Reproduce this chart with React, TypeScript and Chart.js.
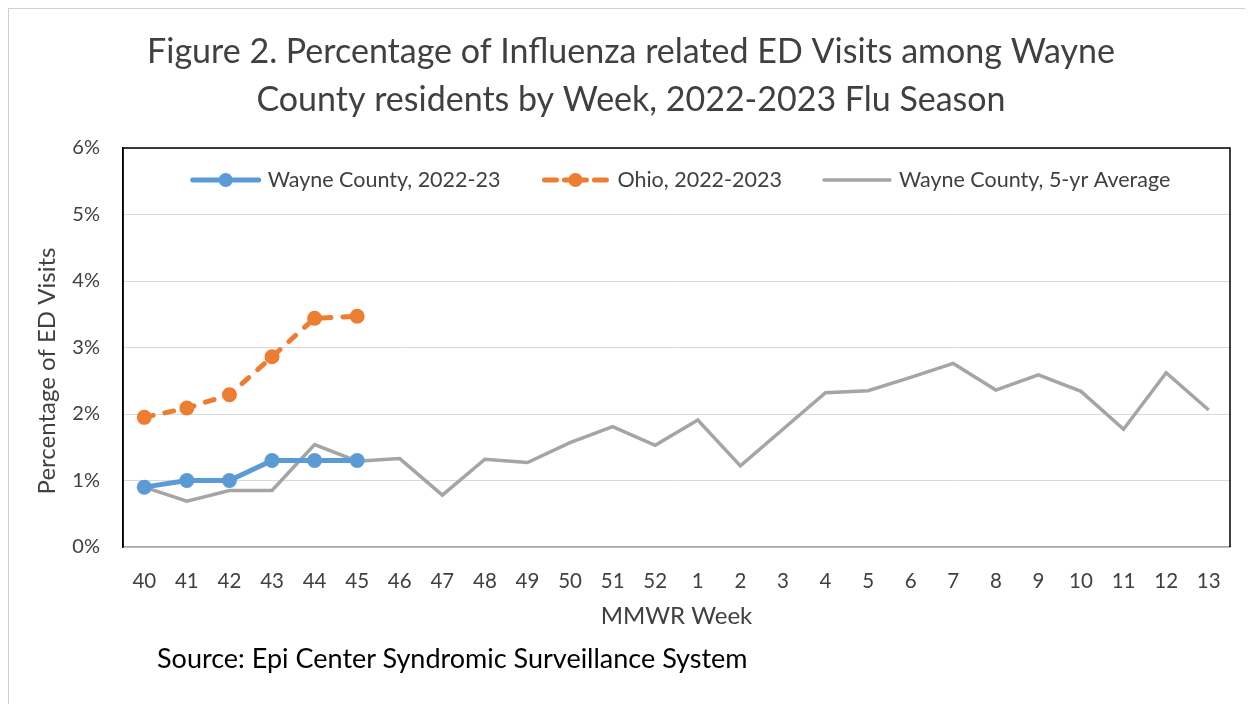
import React, { useEffect, useRef } from 'react';
import { Chart, registerables } from 'chart.js';

Chart.register(...registerables);

const weeks = ['40', '41', '42', '43', '44', '45', '46', '47', '48', '49', '50', '51', '52', '1', '2', '3', '4', '5', '6', '7', '8', '9', '10', '11', '12', '13'];
const wayne2223: (number | null)[] = [0.9, 1.0, 1.0, 1.3, 1.3, 1.3, null, null, null, null, null, null, null, null, null, null, null, null, null, null, null, null, null, null, null, null];
const ohio2223: (number | null)[] = [1.95, 2.09, 2.29, 2.86, 3.44, 3.47, null, null, null, null, null, null, null, null, null, null, null, null, null, null, null, null, null, null, null, null];
const wayne5yr: number[] = [0.9, 0.69, 0.85, 0.85, 1.54, 1.29, 1.33, 0.78, 1.32, 1.27, 1.57, 1.81, 1.53, 1.91, 1.22, 1.77, 2.32, 2.35, 2.55, 2.76, 2.36, 2.59, 2.34, 1.77, 2.62, 2.06];
const yTickLabels = ['0%', '1%', '2%', '3%', '4%', '5%', '6%'];
const seriesNames = ['Wayne County, 2022-23', 'Ohio, 2022-2023', 'Wayne County, 5-yr Average'];
const titleLines = ['Figure 2. Percentage of Influenza related ED Visits among Wayne', 'County residents by Week, 2022-2023 Flu Season'];
const xTitle = 'MMWR Week';
const yTitle = 'Percentage of ED Visits';
const sourceText = 'Source: Epi Center Syndromic Surveillance System';

const BLUE = '#5B9BD5';
const ORANGE = '#ED7D31';
const GRAY = '#A5A5A5';
const TEXT = '#404040';
const FONT = 'Lato, "Open Sans", sans-serif';

export default function App() {
  const canvasRef = useRef<HTMLCanvasElement | null>(null);

  useEffect(() => {
    const canvas = canvasRef.current;
    if (!canvas) return;
    Chart.defaults.font.family = FONT;

    const framePlugin = {
      id: 'frame',
      beforeDatasetsDraw(chart: any) {
        const { ctx, chartArea } = chart;
        const { left, right, top, bottom } = chartArea;
        ctx.save();
        ctx.strokeStyle = '#000';
        ctx.lineWidth = 1.5;
        ctx.beginPath();
        ctx.moveTo(left, bottom);
        ctx.lineTo(left, top);
        ctx.lineTo(right, top);
        ctx.lineTo(right, bottom);
        ctx.stroke();
        ctx.restore();
      },
      afterDraw(chart: any) {
        const { ctx, chartArea } = chart;
        ctx.save();
        // y axis title
        ctx.font = `24px ${FONT}`;
        ctx.fillStyle = TEXT;
        ctx.textAlign = 'center';
        ctx.textBaseline = 'middle';
        ctx.translate(38, 362);
        ctx.rotate(-Math.PI / 2);
        ctx.fillText(yTitle, 0, 0);
        ctx.restore();

        // legend
        ctx.save();
        ctx.font = `21.5px ${FONT}`;
        ctx.textBaseline = 'middle';
        ctx.textAlign = 'left';
        const iconW = 70;
        const textGap = 7;
        const itemGap = 40;
        const widths = seriesNames.map((n) => iconW + textGap + ctx.measureText(n).width);
        const total = widths.reduce((a, b) => a + b, 0) + itemGap * (seriesNames.length - 1);
        let x = (chartArea.left + chartArea.right) / 2 - total / 2 + 4;
        const y = chartArea.top + 32;
        seriesNames.forEach((name, i) => {
          ctx.save();
          if (i === 0) {
            ctx.strokeStyle = BLUE;
            ctx.lineWidth = 5;
            ctx.lineCap = 'round';
            ctx.beginPath();
            ctx.moveTo(x + 2, y);
            ctx.lineTo(x + iconW - 2, y);
            ctx.stroke();
            ctx.fillStyle = BLUE;
            ctx.beginPath();
            ctx.arc(x + iconW / 2, y, 7, 0, Math.PI * 2);
            ctx.fill();
          } else if (i === 1) {
            ctx.strokeStyle = ORANGE;
            ctx.lineWidth = 5;
            ctx.lineCap = 'round';
            const segs = [[4, 16], [24, 46], [54, 66]];
            segs.forEach(([a, b]) => {
              ctx.beginPath();
              ctx.moveTo(x + a, y);
              ctx.lineTo(x + b, y);
              ctx.stroke();
            });
            ctx.fillStyle = ORANGE;
            ctx.beginPath();
            ctx.arc(x + iconW / 2, y, 7, 0, Math.PI * 2);
            ctx.fill();
          } else {
            ctx.strokeStyle = GRAY;
            ctx.lineWidth = 3.5;
            ctx.lineCap = 'round';
            ctx.beginPath();
            ctx.moveTo(x + 2, y);
            ctx.lineTo(x + iconW - 2, y);
            ctx.stroke();
          }
          ctx.restore();
          ctx.fillStyle = TEXT;
          ctx.fillText(name, x + iconW + textGap, y);
          x += widths[i] + itemGap;
        });
        ctx.restore();
      },
    };

    const chart = new Chart(canvas, {
      type: 'line',
      data: {
        labels: weeks,
        datasets: [
          {
            label: seriesNames[0],
            data: wayne2223,
            borderColor: BLUE,
            backgroundColor: BLUE,
            borderWidth: 5,
            pointRadius: 7.5,
            pointBorderWidth: 0,
            pointBackgroundColor: BLUE,
            tension: 0,
            spanGaps: false,
          },
          {
            label: seriesNames[1],
            data: ohio2223,
            borderColor: ORANGE,
            backgroundColor: ORANGE,
            borderWidth: 5,
            borderDash: [9, 12],
            borderCapStyle: 'round',
            pointRadius: 7.5,
            pointBorderWidth: 0,
            pointBackgroundColor: ORANGE,
            tension: 0,
            spanGaps: false,
          },
          {
            label: seriesNames[2],
            data: wayne5yr,
            borderColor: GRAY,
            backgroundColor: GRAY,
            borderWidth: 3.5,
            pointRadius: 0,
            tension: 0,
          },
        ],
      },
      options: {
        responsive: false,
        animation: false,
        layout: { padding: 0 },
        plugins: {
          legend: { display: false },
          tooltip: { enabled: false },
          title: {
            display: true,
            text: titleLines,
            color: TEXT,
            font: { family: FONT, size: 34, weight: 'normal', lineHeight: '48px' },
            padding: { top: 19, bottom: 24 },
          },
        },
        scales: {
          x: {
            type: 'category',
            offset: true,
            grid: { display: false, drawTicks: false },
            border: { color: '#a6a6a6', width: 1.5 },
            ticks: {
              color: TEXT,
              font: { family: FONT, size: 20.5 },
              padding: 22,
              maxRotation: 0,
              autoSkip: false,
            },
            title: {
              display: true,
              text: xTitle,
              color: TEXT,
              font: { family: FONT, size: 24 },
              padding: { top: 0, bottom: 73 },
            },
            afterFit: (s: any) => {
              s.height = 157;
            },
          },
          y: {
            min: 0,
            max: 6,
            grid: { color: '#d9d9d9', lineWidth: 1, drawTicks: false },
            border: { color: '#000', width: 1.5 },
            ticks: {
              stepSize: 1,
              color: TEXT,
              font: { family: FONT, size: 20 },
              padding: 23,
              callback: (v: any) => yTickLabels[Math.round(Number(v))] ?? '',
            },
            afterFit: (s: any) => {
              s.width = 114;
            },
          },
          yRight: {
            position: 'right',
            min: 0,
            max: 6,
            grid: { display: false, drawTicks: false },
            border: { display: false },
            ticks: { display: false },
            afterFit: (s: any) => {
              s.width = 23;
            },
          },
        },
      },
      plugins: [framePlugin],
    } as any);

    return () => chart.destroy();
  }, []);

  return (
    <div
      style={{
        position: 'relative',
        width: 1245,
        height: 696,
        boxSizing: 'border-box',
        borderTop: '1px solid #d0d0d0',
        borderLeft: '1px solid #d0d0d0',
        overflow: 'hidden',
        background: '#fff',
      }}
    >
      <canvas ref={canvasRef} width={1244} height={695} style={{ position: 'absolute', left: 0, top: 0, width: 1244, height: 695 }} />
      <div
        style={{
          position: 'absolute',
          left: 148,
          top: 634,
          fontFamily: FONT,
          fontSize: 27,
          lineHeight: '30px',
          color: '#000',
          whiteSpace: 'nowrap',
        }}
      >
        {sourceText}
      </div>
    </div>
  );
}
